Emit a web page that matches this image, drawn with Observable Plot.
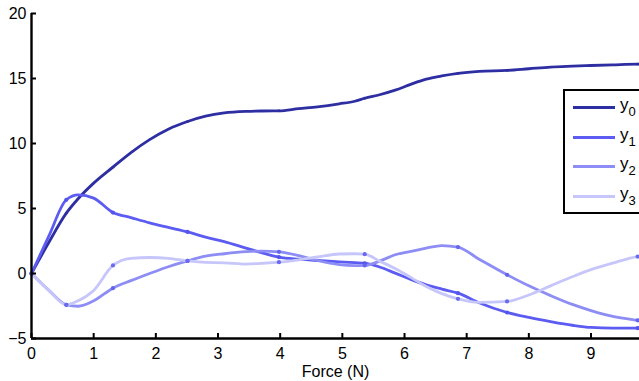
<!DOCTYPE html>
<html>
<head>
<meta charset="utf-8">
<script src="https://cdn.jsdelivr.net/npm/d3@7"></script>
<script src="https://cdn.jsdelivr.net/npm/@observablehq/plot@0.6"></script>
<style>
  html, body { margin: 0; padding: 0; background: #fff; }
  #wrap { position: relative; width: 639px; height: 381px; overflow: hidden; font-family: "Liberation Sans", Arial, sans-serif; }
  #legend { position: absolute; left: 563px; top: 89px; width: 90px; height: 121px; border: 2px solid #000; background: #fff; }
  .sw { position: absolute; left: 8px; width: 42px; height: 3px; }
  .lab { position: absolute; left: 55px; font-size: 17px; line-height: 17px; color: #000; }
  .lab sub { font-size: 13px; vertical-align: -6px; }
</style>
</head>
<body>
<div id="wrap"><div id="chart"></div><div id="legend"></div></div>
<script>
const xs = [0, 0.28, 0.56, 0.75, 1.0, 1.31, 1.6, 1.9, 2.2, 2.51, 2.8, 3.1, 3.45, 3.7, 3.98, 4.3, 4.6, 4.95, 5.2, 5.36, 5.6, 5.85, 6.1, 6.35, 6.6, 6.86, 7.2, 7.65, 8.0, 8.35, 8.7, 9.0, 9.35, 9.75, 9.78];
const y0 = [0, 2.4, 4.64, 5.75, 6.95, 8.18, 9.3, 10.3, 11.1, 11.69, 12.1, 12.35, 12.47, 12.5, 12.51, 12.68, 12.82, 13.05, 13.25, 13.48, 13.75, 14.1, 14.55, 14.95, 15.2, 15.4, 15.55, 15.62, 15.75, 15.88, 15.95, 16.0, 16.05, 16.1, 16.1];
const y1 = [0, 2.9, 5.67, 6.05, 5.8, 4.69, 4.3, 3.9, 3.55, 3.2, 2.8, 2.45, 1.95, 1.6, 1.26, 1.1, 1.0, 0.9, 0.83, 0.79, 0.5, 0.03, -0.45, -0.87, -1.2, -1.51, -2.25, -3.0, -3.38, -3.7, -3.98, -4.15, -4.2, -4.2, -4.2];
const y2 = [0, -1.3, -2.41, -2.52, -2.1, -1.13, -0.55, 0.0, 0.52, 0.97, 1.33, 1.52, 1.68, 1.72, 1.67, 1.38, 1.0, 0.68, 0.6, 0.62, 0.95, 1.44, 1.7, 1.95, 2.15, 2.03, 1.1, -0.1, -0.95, -1.7, -2.38, -2.85, -3.3, -3.6, -3.62];
const y3 = [0, -1.3, -2.41, -2.1, -1.3, 0.62, 1.17, 1.23, 1.17, 0.97, 0.85, 0.82, 0.72, 0.78, 0.87, 1.05, 1.27, 1.5, 1.52, 1.49, 0.95, 0.38, -0.3, -1.0, -1.55, -1.95, -2.22, -2.15, -1.65, -0.95, -0.25, 0.3, 0.8, 1.3, 1.32];
const knotX = [0, 0.56, 1.31, 2.51, 3.98, 5.36, 6.86, 7.65, 9.75];
const seriesNames = ["y0", "y1", "y2", "y3"];
const seriesLabels = ["0", "1", "2", "3"];
const seriesColors = ["#2e2ea3", "#5c5cf2", "#8d8df5", "#c6c6fb"];
const markerColors = ["#2e2ea3", "#5555ee", "#6464ee", "#6a6af0"];
const xTicks = [0, 1, 2, 3, 4, 5, 6, 7, 8, 9];
const yTicks = [-5, 0, 5, 10, 15, 20];

const seriesValues = [y0, y1, y2, y3];
const data = [];
seriesValues.forEach((arr, s) => arr.forEach((v, i) => data.push({series: seriesNames[s], s, x: xs[i], y: v})));
const markers = data.filter(d => knotX.includes(d.x));

const W = 639, H = 381, mL = 31, mR = 0, mT = 13, mB = 43;

const chart = Plot.plot({
  width: W, height: H,
  marginLeft: mL, marginRight: mR, marginTop: mT, marginBottom: mB,
  style: {fontFamily: "Liberation Sans, Arial, sans-serif", fontSize: "16px", color: "#000", background: "#fff", overflow: "visible"},
  x: {domain: [0, 9.78]},
  y: {domain: [-5, 20]},
  marks: [
    Plot.axisX(xTicks, {tickSize: 0, tickPadding: 9, label: "Force (N)", labelAnchor: "center", labelArrow: "none", labelOffset: 38, fontSize: 16}),
    Plot.axisY(yTicks, {tickSize: 0, tickPadding: 5, label: null, fontSize: 16}),
    ...seriesNames.map((name, s) => Plot.line(data.filter(d => d.s === s), {x: "x", y: "y", stroke: seriesColors[s], strokeWidth: 2.8, curve: "monotone-x"})),
    ...seriesNames.map((name, s) => Plot.dot(markers.filter(d => d.s === s), {x: "x", y: "y", r: s === 0 ? 1.4 : 2.1, fill: markerColors[s], stroke: "none"})),
    Plot.tickX(xTicks, {x: d => d, insetTop: H - mT - mB - 5, stroke: "#000", strokeWidth: 2}),
    Plot.tickY(yTicks, {y: d => d, insetRight: W - mL - mR - 5, stroke: "#000", strokeWidth: 2}),
    Plot.ruleY([-5], {stroke: "#000", strokeWidth: 2.4}),
    Plot.ruleX([0], {stroke: "#000", strokeWidth: 2.4})
  ]
});
document.getElementById("chart").appendChild(chart);

const legend = document.getElementById("legend");
const rowTops = [17, 47, 76, 106];
seriesNames.forEach((name, s) => {
  const sw = document.createElement("div");
  sw.className = "sw";
  sw.style.top = (rowTops[s] - 2) + "px";
  sw.style.background = seriesColors[s];
  legend.appendChild(sw);
  const lab = document.createElement("div");
  lab.className = "lab";
  lab.style.top = (rowTops[s] - 12) + "px";
  lab.innerHTML = "y<sub>" + seriesLabels[s] + "</sub>";
  legend.appendChild(lab);
});
</script>
</body>
</html>
